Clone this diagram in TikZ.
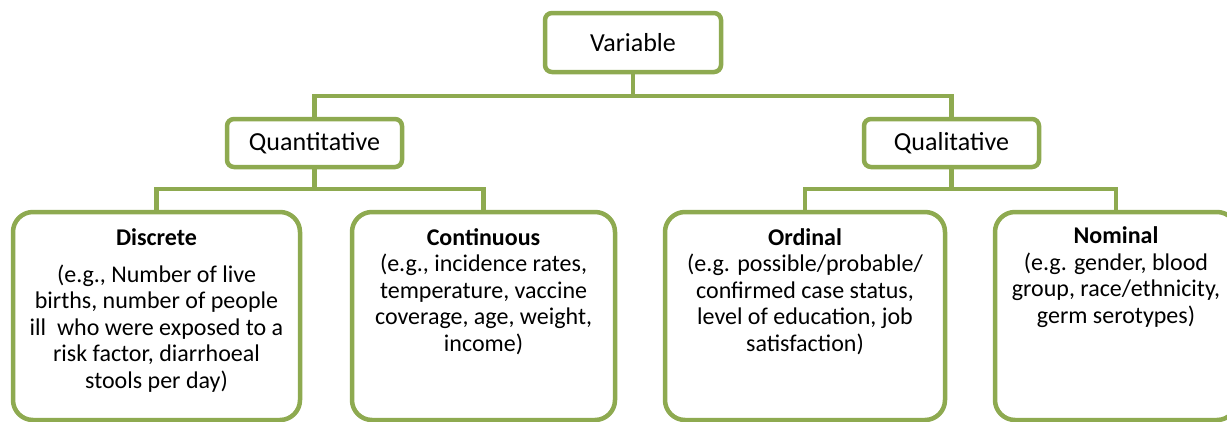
\documentclass[tikz,border=0pt]{standalone}
\usepackage{fontspec}
\setmainfont{Carlito}
\begin{document}
\begin{tikzpicture}[x=1pt,y=1pt,
  every node/.style={inner sep=0pt, outer sep=0pt},
  linecol/.style={draw=boxgreen, line width=4.5pt},
  topbox/.style={linecol, fill=white, rounded corners=7pt, anchor=north west},
  bigbox/.style={linecol, fill=white, rounded corners=20pt, anchor=north west},
  conn/.style={draw=boxgreen, line width=4.5pt},
  toptext/.style={font=\fontsize{26}{31}\selectfont},
  bodytext/.style={align=center, anchor=base, font=\fontsize{24}{26.5}\selectfont}
]
\definecolor{boxgreen}{RGB}{142,170,80}
\useasboundingbox (0,0) rectangle (1227,-421);
\clip (0,0) rectangle (1227,-421);
\fill[white] (0,0) rectangle (1227,-421);

\coordinate (vj) at (633,-96);
\coordinate (qnj) at (314.5,-189);
\coordinate (qlj) at (951.5,-189);

% top level boxes
\node[topbox, minimum width=176, minimum height=59] (var) at (545,-13) {};
\node[topbox, minimum width=175, minimum height=48] (quant) at (227,-119) {};
\node[topbox, minimum width=175, minimum height=48] (qual) at (864,-119) {};

% bottom boxes
\node[bigbox, minimum width=287, minimum height=208] (disc) at (13,-212) {};
\node[bigbox, minimum width=263, minimum height=208] (cont) at (352,-212) {};
\node[bigbox, minimum width=280, minimum height=208] (ord) at (665,-212) {};
\node[bigbox, minimum width=242, minimum height=208] (nom) at (995,-212) {};

% connectors
\draw[conn] (var.south) -- (var.south |- vj) -| (quant.north);
\draw[conn] (var.south |- vj) -| (qual.north);
\draw[conn] (quant.south) -- (quant.south |- qnj) -| (disc.north);
\draw[conn] (quant.south |- qnj) -| (cont.north);
\draw[conn] (qual.south) -- (qual.south |- qlj) -| (ord.north);
\draw[conn] (qual.south |- qlj) -| (nom.north);

% top texts
\node[toptext] (vart) at (var.center) {Variable};
\node[toptext] (quantt) at (quant.center) {Quantitative};
\node[toptext] (qualt) at (qual.center) {Qualitative};

% bottom texts (anchor = baseline of last line)
\node[bodytext] (disct) at (156.5,-388) {\textbf{Discrete}\\[10pt]
(e.g., Number of live\\births, number of people\\ill~ who were exposed to a\\risk factor, diarrhoeal\\stools per day)};
\node[bodytext] (contt) at (483.5,-351) {\textbf{Continuous}\\
(e.g., incidence rates,\\temperature, vaccine\\coverage, age, weight,\\income)};
\node[bodytext] (ordt) at (805,-351) {\textbf{Ordinal}\\
(e.g. possible/probable/\\confirmed case status,\\level of education, job\\satisfaction)};
\node[bodytext] (nomt) at (1116,-323) {\textbf{Nominal}\\
(e.g. gender, blood\\group, race/ethnicity,\\germ serotypes)};
\end{tikzpicture}
\end{document}
